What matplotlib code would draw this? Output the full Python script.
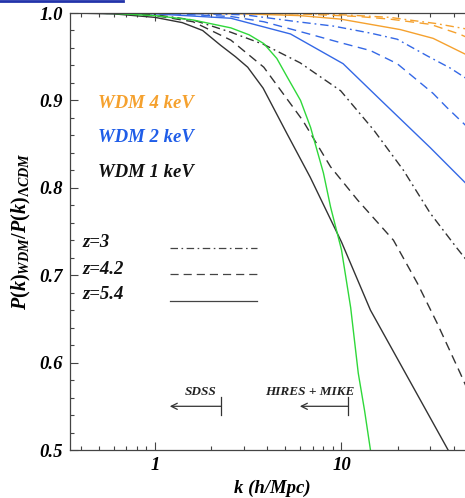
import matplotlib
matplotlib.use("Agg")
import matplotlib.pyplot as plt
from matplotlib.lines import Line2D
from matplotlib.ticker import FixedLocator, NullFormatter

plt.rcParams['mathtext.fontset'] = 'custom'
plt.rcParams['mathtext.it'] = 'Liberation Serif:italic:bold'
plt.rcParams['mathtext.rm'] = 'Liberation Serif:bold'
plt.rcParams['mathtext.bf'] = 'Liberation Serif:bold'
plt.rcParams['mathtext.default'] = 'it'

# ---------------- data ----------------
# WDM 1 keV
k_1kev_z54 = [0.35, 0.6, 1.0, 1.4, 1.8, 2.25, 2.7, 3.14, 3.8, 5.1, 6.8, 10.0, 14.3, 37.3, 40.0]
r_1kev_z54 = [1.0, 0.999, 0.995, 0.989, 0.980, 0.963, 0.950, 0.938, 0.914, 0.862, 0.812, 0.738, 0.660, 0.500, 0.486]
k_1kev_z42 = [0.35, 0.6, 1.0, 1.6, 2.55, 3.83, 6.2, 8.74, 12.2, 19.0, 25.5, 32.6, 43.3, 52.0]
r_1kev_z42 = [1.0, 0.9995, 0.997, 0.99, 0.969, 0.938, 0.877, 0.824, 0.786, 0.740, 0.691, 0.645, 0.588, 0.55]
k_1kev_z3 = [0.35, 0.6, 1.0, 1.6, 2.55, 3.83, 6.0, 9.9, 14.9, 21.5, 29.9, 41.6, 52.0]
r_1kev_z3 = [1.0, 0.9995, 0.998, 0.992, 0.978, 0.964, 0.943, 0.911, 0.866, 0.820, 0.771, 0.731, 0.705]
# WDM 2 keV
k_2kev_z54 = [0.35, 1.0, 2.55, 5.33, 10.2, 16.3, 29.9, 46.0, 52.0]
r_2kev_z54 = [1.0, 0.999, 0.994, 0.976, 0.942, 0.900, 0.846, 0.806, 0.795]
k_2kev_z42 = [0.35, 1.0, 2.55, 3.83, 6.7, 9.9, 14.3, 19.9, 25.5, 31.0, 36.7, 46.0, 52.0]
r_2kev_z42 = [1.0, 1.0, 0.996, 0.990, 0.976, 0.966, 0.957, 0.942, 0.923, 0.908, 0.892, 0.872, 0.862]
k_2kev_z3 = [0.35, 1.0, 3.0, 5.8, 9.06, 14.3, 19.9, 28.8, 38.3, 46.0, 52.0]
r_2kev_z3 = [1.0, 1.0, 0.998, 0.990, 0.985, 0.977, 0.970, 0.951, 0.937, 0.926, 0.918]
# WDM 4 keV
k_4kev_z54 = [0.35, 1.0, 3.0, 6.0, 9.9, 20.7, 31.0, 46.0, 52.0]
r_4kev_z54 = [1.0, 1.0, 0.999, 0.997, 0.993, 0.981, 0.971, 0.953, 0.947]
k_4kev_z42 = [0.35, 1.0, 6.0, 12.3, 18.2, 30.0, 42.8, 52.0]
r_4kev_z42 = [1.0, 1.0, 0.999, 0.996, 0.993, 0.987, 0.976, 0.968]
k_4kev_z3 = [0.35, 1.0, 8.0, 12.3, 18.2, 25.0, 32.0, 46.0, 52.0]
r_4kev_z3 = [1.0, 1.0, 0.999, 0.997, 0.995, 0.991, 0.988, 0.982, 0.979]
# green curve
k_green = [0.35, 0.6, 1.0, 1.6, 2.55, 3.2, 3.83, 4.5, 5.14, 6.03, 6.83, 8.0, 8.74, 10.0, 11.2, 12.3, 13.3, 14.3]
r_green = [1.0, 0.9995, 0.997, 0.992, 0.983, 0.975, 0.965, 0.948, 0.926, 0.900, 0.869, 0.817, 0.778, 0.729, 0.663, 0.588, 0.545, 0.500]

wdm_labels = ["WDM 4 keV", "WDM 2 keV", "WDM 1 keV"]
z_labels = ["z=3", "z=4.2", "z=5.4"]
xtick_vals = [1, 10]
xtick_labels = ["1", "10"]
ytick_vals = [0.5, 0.6, 0.7, 0.8, 0.9, 1.0]
ytick_labels = ["0.5", "0.6", "0.7", "0.8", "0.9", "1.0"]
sdss_range = [1.20, 2.26]
hires_range = [5.98, 10.9]
sdss_text_k = 1.75
hires_text_k = 6.8

# ---------------- style ----------------
C_ORANGE = '#f5a12e'
C_BLUE = '#3468e6'
C_BLUE_TXT = '#1f5de8'
C_BLACK = '#333333'
C_GREEN = '#2fd83a'
LS_DD = (0, (6.0, 2.8, 1.3, 2.8))
LS_DA = (0, (6.5, 4.0))
LS_SO = '-'
FONT = dict(family='Liberation Serif', weight='bold', style='italic')

fig = plt.figure(figsize=(4.65, 4.98), dpi=100)
ax = fig.add_axes([70/465, 1-450/498, 405/465, 437/498])

lw = 1.0
ax.plot(k_4kev_z3, r_4kev_z3, color=C_ORANGE, ls=LS_DD, lw=lw)
ax.plot(k_4kev_z42, r_4kev_z42, color=C_ORANGE, ls=LS_DA, lw=lw)
ax.plot(k_4kev_z54, r_4kev_z54, color=C_ORANGE, ls=LS_SO, lw=lw)
ax.plot(k_2kev_z3, r_2kev_z3, color=C_BLUE, ls=LS_DD, lw=lw)
ax.plot(k_2kev_z42, r_2kev_z42, color=C_BLUE, ls=LS_DA, lw=lw)
ax.plot(k_2kev_z54, r_2kev_z54, color=C_BLUE, ls=LS_SO, lw=lw)
ax.plot(k_1kev_z3, r_1kev_z3, color=C_BLACK, ls=LS_DD, lw=lw)
ax.plot(k_1kev_z42, r_1kev_z42, color=C_BLACK, ls=LS_DA, lw=lw)
ax.plot(k_1kev_z54, r_1kev_z54, color=C_BLACK, ls=LS_SO, lw=lw)
ax.plot(k_green, r_green, color=C_GREEN, ls='-', lw=lw)

ax.set_xscale('log')
ax.set_xlim(0.35, 52)
ax.set_ylim(0.5, 1.0)

ax.xaxis.set_major_locator(FixedLocator(xtick_vals))
ax.xaxis.set_minor_locator(FixedLocator([0.4, 0.5, 0.6, 0.7, 0.8, 0.9, 2, 3, 4, 5, 6, 7, 8, 9, 20, 30, 40, 50]))
ax.xaxis.set_minor_formatter(NullFormatter())
ax.set_xticks(xtick_vals)
ax.set_xticklabels(xtick_labels, **FONT, fontsize=13.5)
ax.set_yticks(ytick_vals)
ax.set_yticklabels(ytick_labels, **FONT, fontsize=13.5)
ax.yaxis.set_minor_locator(FixedLocator([0.52 + 0.02*i for i in range(24)]))

ax.tick_params(which='both', direction='in', top=True, right=False, color='#444444', width=0.8)
ax.tick_params(which='major', length=5.8, pad=5)
ax.tick_params(which='minor', length=3.0)
for s in ['left', 'bottom', 'top']:
    ax.spines[s].set_color('#444444')
    ax.spines[s].set_linewidth(0.9)
ax.spines['right'].set_visible(False)

ax.set_xlabel('k (h/Mpc)', **FONT, fontsize=13.5, labelpad=4)
ax.set_ylabel(r'$P(k)_{WDM}/P(k)_{\Lambda CDM}$', fontsize=14.5, labelpad=5)

# WDM labels
for lab, col, yf in zip(wdm_labels, [C_ORANGE, C_BLUE_TXT, '#111111'], [0.794, 0.716, 0.634]):
    ax.text(0.070, yf, lab, transform=ax.transAxes, color=col, va='center', ha='left', fontsize=13.5, **FONT)

# redshift key
for lab, ls, ty, ly in zip(z_labels, [LS_DD, LS_DA, LS_SO], [0.474, 0.412, 0.355], [0.462, 0.403, 0.341]):
    ax.text(0.032, ty, lab, transform=ax.transAxes, color='#111111', va='center', ha='left', fontsize=13.5, **FONT)
    ax.plot([0.247, 0.462], [ly, ly], transform=ax.transAxes, color='#444444', ls=ls, lw=0.9)

# data range annotations
for rng, lab, tk in zip([sdss_range, hires_range], ['SDSS', 'HIRES + MIKE'], [sdss_text_k, hires_text_k]):
    ax.annotate('', xy=(rng[0], 0.550), xytext=(rng[1], 0.550),
                arrowprops=dict(arrowstyle='->', lw=0.9, color='#333333', shrinkA=0, shrinkB=0, mutation_scale=11))
    ax.plot([rng[1], rng[1]], [0.540, 0.561], color='#333333', lw=0.9)
    ax.text(tk, 0.566, lab, ha='center', va='center', fontsize=9.5, color='#222222', **FONT)

# link underline at top-left of the screenshot
fig.add_artist(Line2D([0, 123/465], [1 - 1.2/498, 1 - 1.2/498], color='#2233aa', lw=2.0))

fig.savefig('out.png', dpi=100)
